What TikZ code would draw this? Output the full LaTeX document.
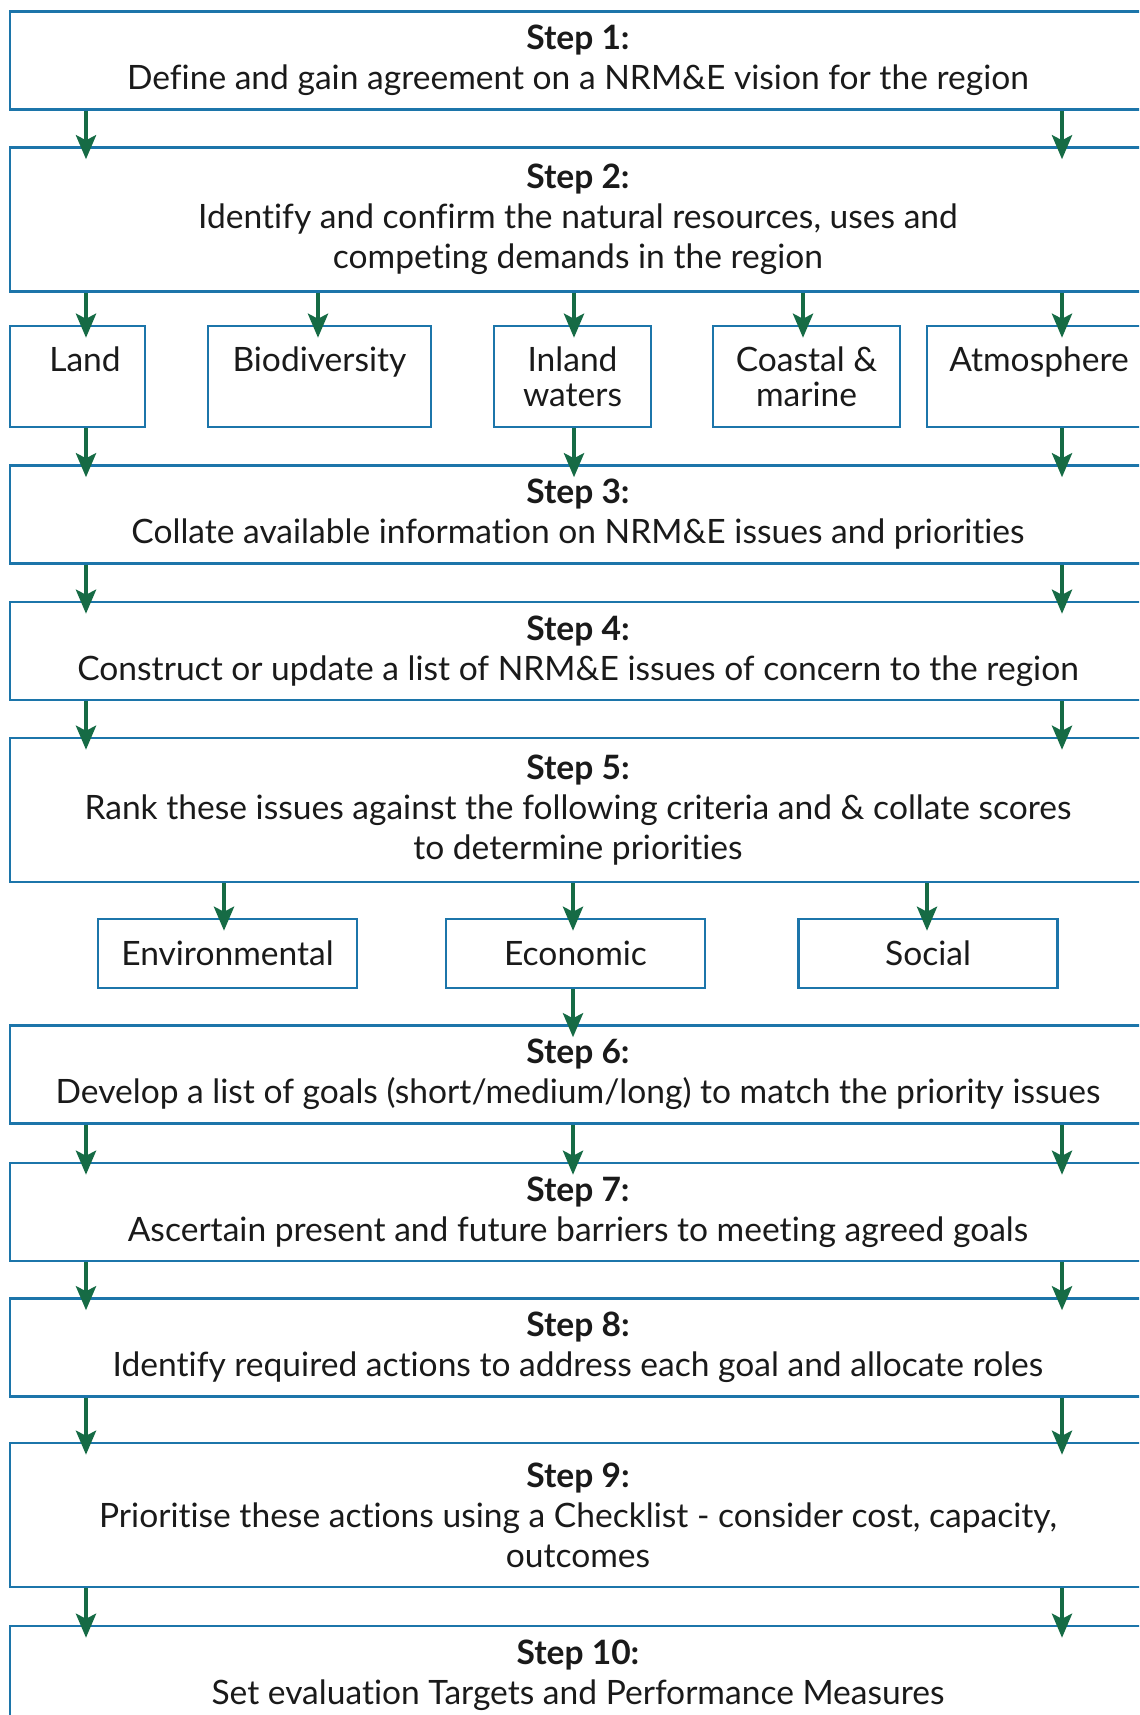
\documentclass[tikz,border=0pt]{standalone}
\usepackage{fontspec}
\setmainfont{Lato}[Ligatures=NoCommon]
\usetikzlibrary{arrows.meta}
\definecolor{frameblue}{HTML}{1C75AA}
\definecolor{arrowgreen}{HTML}{166B45}
\definecolor{ink}{HTML}{1A1A1A}

\begin{document}
\begin{tikzpicture}[>=Stealth,font=\fontsize{19.1}{22.8}\selectfont,text=ink]
  \tikzset{
    stepbox/.style={draw=frameblue,line width=1.4pt,minimum width=22.72cm,minimum height=1.96cm,align=center,inner sep=0pt},
    tallbox/.style={stepbox,minimum height=2.88cm},
    resource/.style={draw=frameblue,line width=1.4pt,minimum height=2.02cm,align=center,inner sep=0pt,font=\fontsize{19.1}{19.9}\selectfont},
    criterion/.style={draw=frameblue,line width=1.4pt,minimum width=5.18cm,minimum height=1.38cm,inner sep=0pt},
    flow/.style={arrowgreen,line width=2.5pt,-{Stealth[length=4.8mm,width=4mm,inset=1mm]},shorten >=-2.6mm}
  }
  \useasboundingbox (0,0) rectangle (22.78,-34.30);
  \begin{scope}
  \clip (0,0) rectangle (22.78,-34.30);

  % Arrow columns.
  \coordinate (xL) at (1.72,0);
  \coordinate (xR) at (21.24,0);
  \coordinate (xB) at (6.36,0);
  \coordinate (xI) at (11.48,0);
  \coordinate (xC) at (16.06,0);
  \coordinate (xE) at (4.48,0);
  \coordinate (xM) at (11.46,0);
  \coordinate (xS) at (18.54,0);

  % Steps 1 and 2.
  \node[stepbox] (S1) at (11.56,-1.21) {\textbf{Step 1:}\\Define and gain agreement on a NRM\&E vision for the region};
  \node[tallbox] (S2) at (11.56,-4.39) {\textbf{Step 2:}\\Identify and confirm the natural resources, uses and\\competing demands in the region};
  \draw[flow] (S1.south -| xL) -- (S2.north -| xL); \draw[flow] (S1.south -| xR) -- (S2.north -| xR);

  % Resources.
  \node[resource,minimum width=2.70cm] (land) at (1.55,-7.53) {\hspace{3mm}Land\\{}};
  \node[resource,minimum width=4.46cm] (bio) at (6.39,-7.53) {Biodiversity\\{}};
  \node[resource,minimum width=3.14cm] (inland) at (11.45,-7.53) {Inland\\waters};
  \node[resource,minimum width=3.74cm] (coastal) at (16.13,-7.53) {Coastal \&\\marine\hspace{2mm}};
  \node[resource,minimum width=4.48cm] (atmos) at (20.78,-7.53) {Atmosphere\\{}};
  \draw[flow] (S2.south -| xL) -- (land.north -| xL);
  \draw[flow] (S2.south -| xB) -- (bio.north -| xB);
  \draw[flow] (S2.south -| xI) -- (inland.north -| xI);
  \draw[flow] (S2.south -| xC) -- (coastal.north -| xC);
  \draw[flow] (S2.south -| xR) -- (atmos.north -| xR);

  % Steps 3 to 5.
  \node[stepbox] (S3) at (11.56,-10.29) {\textbf{Step 3:}\\Collate available information on NRM\&E issues and priorities};
  \node[stepbox] (S4) at (11.56,-13.02) {\textbf{Step 4:}\\Construct or update a list of NRM\&E issues of concern to the region};
  \node[tallbox] (S5) at (11.56,-16.20) {\textbf{Step 5:}\\Rank these issues against the following criteria and \& collate scores\\to determine priorities};
  \draw[flow] (land.south -| xL) -- (S3.north -| xL);
  \draw[flow] (inland.south -| xI) -- (S3.north -| xI);
  \draw[flow] (atmos.south -| xR) -- (S3.north -| xR);
  \draw[flow] (S3.south -| xL) -- (S4.north -| xL); \draw[flow] (S3.south -| xR) -- (S4.north -| xR);
  \draw[flow] (S4.south -| xL) -- (S5.north -| xL); \draw[flow] (S4.south -| xR) -- (S5.north -| xR);

  % Criteria.
  \node[criterion] (env) at (4.55,-19.07) {Environmental};
  \node[criterion] (eco) at (11.51,-19.07) {Economic};
  \node[criterion] (soc) at (18.56,-19.07) {Social};
  \draw[flow] (S5.south -| xE) -- (env.north -| xE);
  \draw[flow] (S5.south -| xM) -- (eco.north -| xM);
  \draw[flow] (S5.south -| xS) -- (soc.north -| xS);

  % Steps 6 to 10.
  \node[stepbox] (S6) at (11.56,-21.49) {\textbf{Step 6:}\\Develop a list of goals (short/medium/long) to match the priority issues};
  \node[stepbox] (S7) at (11.56,-24.24) {\textbf{Step 7:}\\Ascertain present and future barriers to meeting agreed goals};
  \node[stepbox] (S8) at (11.56,-26.95) {\textbf{Step 8:}\\Identify required actions to address each goal and allocate roles};
  \node[tallbox] (S9) at (11.56,-30.30) {\textbf{Step 9:}\\Prioritise these actions using a Checklist - consider cost, capacity,\\outcomes};
  \node[stepbox] (S10) at (11.56,-33.50) {\textbf{Step 10:}\\Set evaluation Targets and Performance Measures};
  \draw[flow] (eco.south -| xM) -- (S6.north -| xM);
  \draw[flow] (S6.south -| xL) -- (S7.north -| xL); \draw[flow] (S6.south -| xM) -- (S7.north -| xM); \draw[flow] (S6.south -| xR) -- (S7.north -| xR);
  \draw[flow] (S7.south -| xL) -- (S8.north -| xL); \draw[flow] (S7.south -| xR) -- (S8.north -| xR);
  \draw[flow] (S8.south -| xL) -- (S9.north -| xL); \draw[flow] (S8.south -| xR) -- (S9.north -| xR);
  \draw[flow] (S9.south -| xL) -- (S10.north -| xL); \draw[flow] (S9.south -| xR) -- (S10.north -| xR);
  \end{scope}
\end{tikzpicture}
\end{document}
